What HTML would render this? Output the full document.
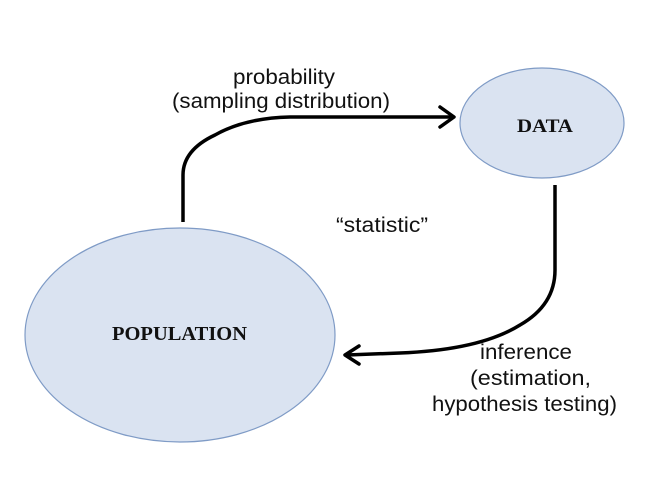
<!DOCTYPE html>
<html><head><style>
body{margin:0;background:#fff;}
svg{display:block}
text{font-family:"Liberation Sans",sans-serif;font-size:21.5px;fill:#111}
.b{font-family:"Liberation Serif",serif;font-weight:bold;font-size:20px}
</style></head><body>
<svg width="667" height="500" viewBox="0 0 667 500">
<ellipse cx="180" cy="335" rx="155" ry="107" fill="#dae3f1" stroke="#7f9bc6" stroke-width="1.2"/>
<ellipse cx="542" cy="123" rx="82" ry="55" fill="#dae3f1" stroke="#7f9bc6" stroke-width="1.2"/>
<text class="b" x="112" y="340" textLength="135" lengthAdjust="spacingAndGlyphs">POPULATION</text>
<text class="b" x="517" y="132" textLength="56" lengthAdjust="spacingAndGlyphs" style="font-size:19px">DATA</text>
<path d="M183,222 L183,175 Q183,150 215,135 Q245,118 290,117 L452,117" fill="none" stroke="#000" stroke-width="3.5"/>
<path d="M440,107 L454,117 L440,127" fill="none" stroke="#000" stroke-width="3.5" stroke-linejoin="round" stroke-linecap="round"/>
<path d="M555,185 L555,270 Q555,305 520,325 Q480,350 400,353 L347,355" fill="none" stroke="#000" stroke-width="3.5"/>
<path d="M359,346 L345,355 L359,364" fill="none" stroke="#000" stroke-width="3.5" stroke-linejoin="round" stroke-linecap="round"/>
<text x="233" y="84" textLength="102" lengthAdjust="spacingAndGlyphs">probability</text>
<text x="172" y="108" textLength="218" lengthAdjust="spacingAndGlyphs">(sampling distribution)</text>
<text x="336" y="232" textLength="92" lengthAdjust="spacingAndGlyphs">“statistic”</text>
<text x="480" y="359" textLength="92" lengthAdjust="spacingAndGlyphs">inference</text>
<text x="470" y="385" textLength="121" lengthAdjust="spacingAndGlyphs">(estimation,</text>
<text x="432" y="411" textLength="185" lengthAdjust="spacingAndGlyphs">hypothesis testing)</text>
</svg>
</body></html>
